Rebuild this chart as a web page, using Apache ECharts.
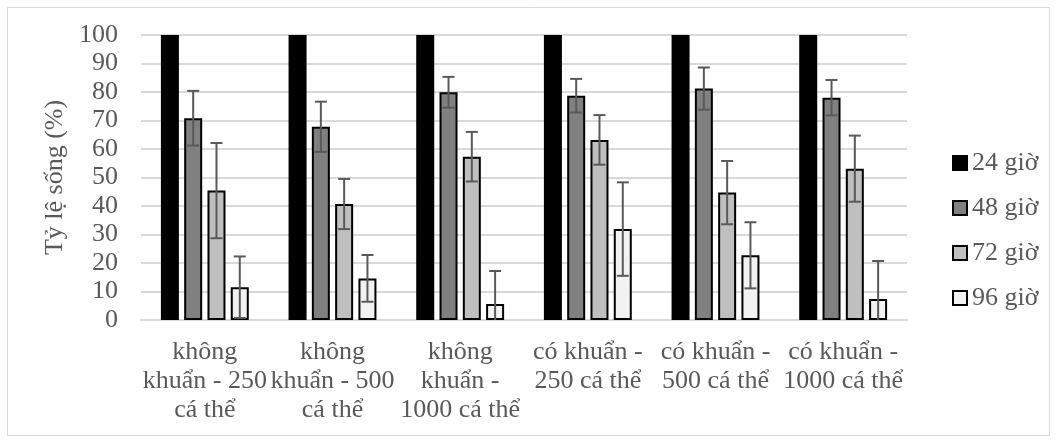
<!DOCTYPE html>
<html><head><meta charset="utf-8">
<script src="https://cdn.jsdelivr.net/npm/echarts@6/dist/echarts.min.js"></script>
<style>html,body{margin:0;padding:0;background:#fff}#c{width:1058px;height:443px}</style>
</head><body><div id="c"></div>
<script>
var categories = ['không\nkhuẩn - 250\ncá thể', 'không\nkhuẩn - 500\ncá thể', 'không\nkhuẩn -\n1000 cá thể', 'có khuẩn -\n250 cá thể', 'có khuẩn -\n500 cá thể', 'có khuẩn -\n1000 cá thể'];
var seriesNames = ['24 giờ', '48 giờ', '72 giờ', '96 giờ'];
var v24 = [100, 100, 100, 100, 100, 100];
var v48 = [70.8, 67.8, 79.9, 78.7, 81.2, 78.0];
var v72 = [45.4, 40.7, 57.3, 63.2, 44.7, 53.1];
var v96 = [11.5, 14.6, 5.6, 31.9, 22.7, 7.4];
var e24 = [0, 0, 0, 0, 0, 0];
var e48 = [9.6, 8.8, 5.4, 5.9, 7.4, 6.2];
var e72 = [16.7, 8.8, 8.7, 8.7, 11.1, 11.6];
var e96 = [10.8, 8.2, 11.6, 16.4, 11.6, 13.3];
var yTicks = [0, 10, 20, 30, 40, 50, 60, 70, 80, 90, 100];

var values = [v24, v48, v72, v96];
var errors = [e24, e48, e72, e96];
var fills = ['#000000', '#808080', '#bfbfbf', '#f2f2f2'];
var BAR_W = 18, STEP = 23.3;
var FONT = '"Liberation Serif","Times New Roman",serif';
var TXT = '#595959';

var chart = echarts.init(document.getElementById('c'));
var series = [];
values.forEach(function (vals, si) {
  series.push({
    name: seriesNames[si], type: 'bar', data: vals,
    barWidth: BAR_W, barGap: ((STEP - BAR_W) / BAR_W * 100).toFixed(1) + '%',
    barCategoryGap: '31%',
    itemStyle: { color: fills[si], borderColor: '#000', borderWidth: 2 },
    z: 2
  });
});
values.forEach(function (vals, si) {
  if (si === 0) return;
  series.push({
    type: 'custom', name: seriesNames[si] + ' err', z: 5, silent: true,
    data: vals.map(function (v, i) { return [i, v, errors[si][i]]; }),
    renderItem: function (params, api) {
      var i = api.value(0), v = api.value(1), e = api.value(2);
      var lo = Math.max(0, v - e), hi = v + e;
      var c = api.coord([i, v]);
      var x = c[0] + (si - 1.5) * STEP;
      var yHi = api.coord([i, hi])[1], yLo = api.coord([i, lo])[1];
      var st = { stroke: '#595959', lineWidth: 2 };
      var kids = [
        { type: 'line', shape: { x1: x, y1: yHi, x2: x, y2: yLo }, style: st },
        { type: 'line', shape: { x1: x - 6, y1: yHi, x2: x + 6, y2: yHi }, style: st }
      ];
      if (v - e > 0) kids.push({ type: 'line', shape: { x1: x - 6, y1: yLo, x2: x + 6, y2: yLo }, style: st });
      return { type: 'group', children: kids };
    }
  });
});

chart.setOption({
  backgroundColor: '#fff',
  animation: false,
  graphic: [{ type: 'rect', shape: { x: 7.5, y: 7.5, width: 1042, height: 428 }, style: { fill: 'none', stroke: '#d9d9d9', lineWidth: 1 } }],
  grid: { left: 141, right: 151, top: 35, bottom: 123 },
  legend: {
    orient: 'vertical', left: 947, top: 145, itemGap: 19,
    itemWidth: 14, itemHeight: 14,
    data: seriesNames.map(function (n) { return { name: n, icon: 'rect' }; }),
    textStyle: { fontFamily: FONT, fontSize: 26, color: TXT },
    itemStyle: { borderColor: '#000', borderWidth: 2 }
  },
  xAxis: {
    type: 'category', data: categories,
    axisLine: { lineStyle: { color: '#d9d9d9', width: 2 } },
    axisTick: { show: false },
    axisLabel: { interval: 0, margin: 18, fontFamily: FONT, fontSize: 26, lineHeight: 29, color: TXT }
  },
  yAxis: {
    type: 'value', min: yTicks[0], max: yTicks[yTicks.length - 1], interval: 10,
    name: 'Tỷ lệ sống (%)', nameLocation: 'middle', nameGap: 72, nameRotate: 90,
    nameTextStyle: { fontFamily: FONT, fontSize: 26, color: TXT },
    axisLine: { show: false }, axisTick: { show: false },
    axisLabel: { margin: 23, fontFamily: FONT, fontSize: 26, color: TXT },
    splitLine: { lineStyle: { color: '#d9d9d9', width: 2 } }
  },
  series: series
});
</script></body></html>
